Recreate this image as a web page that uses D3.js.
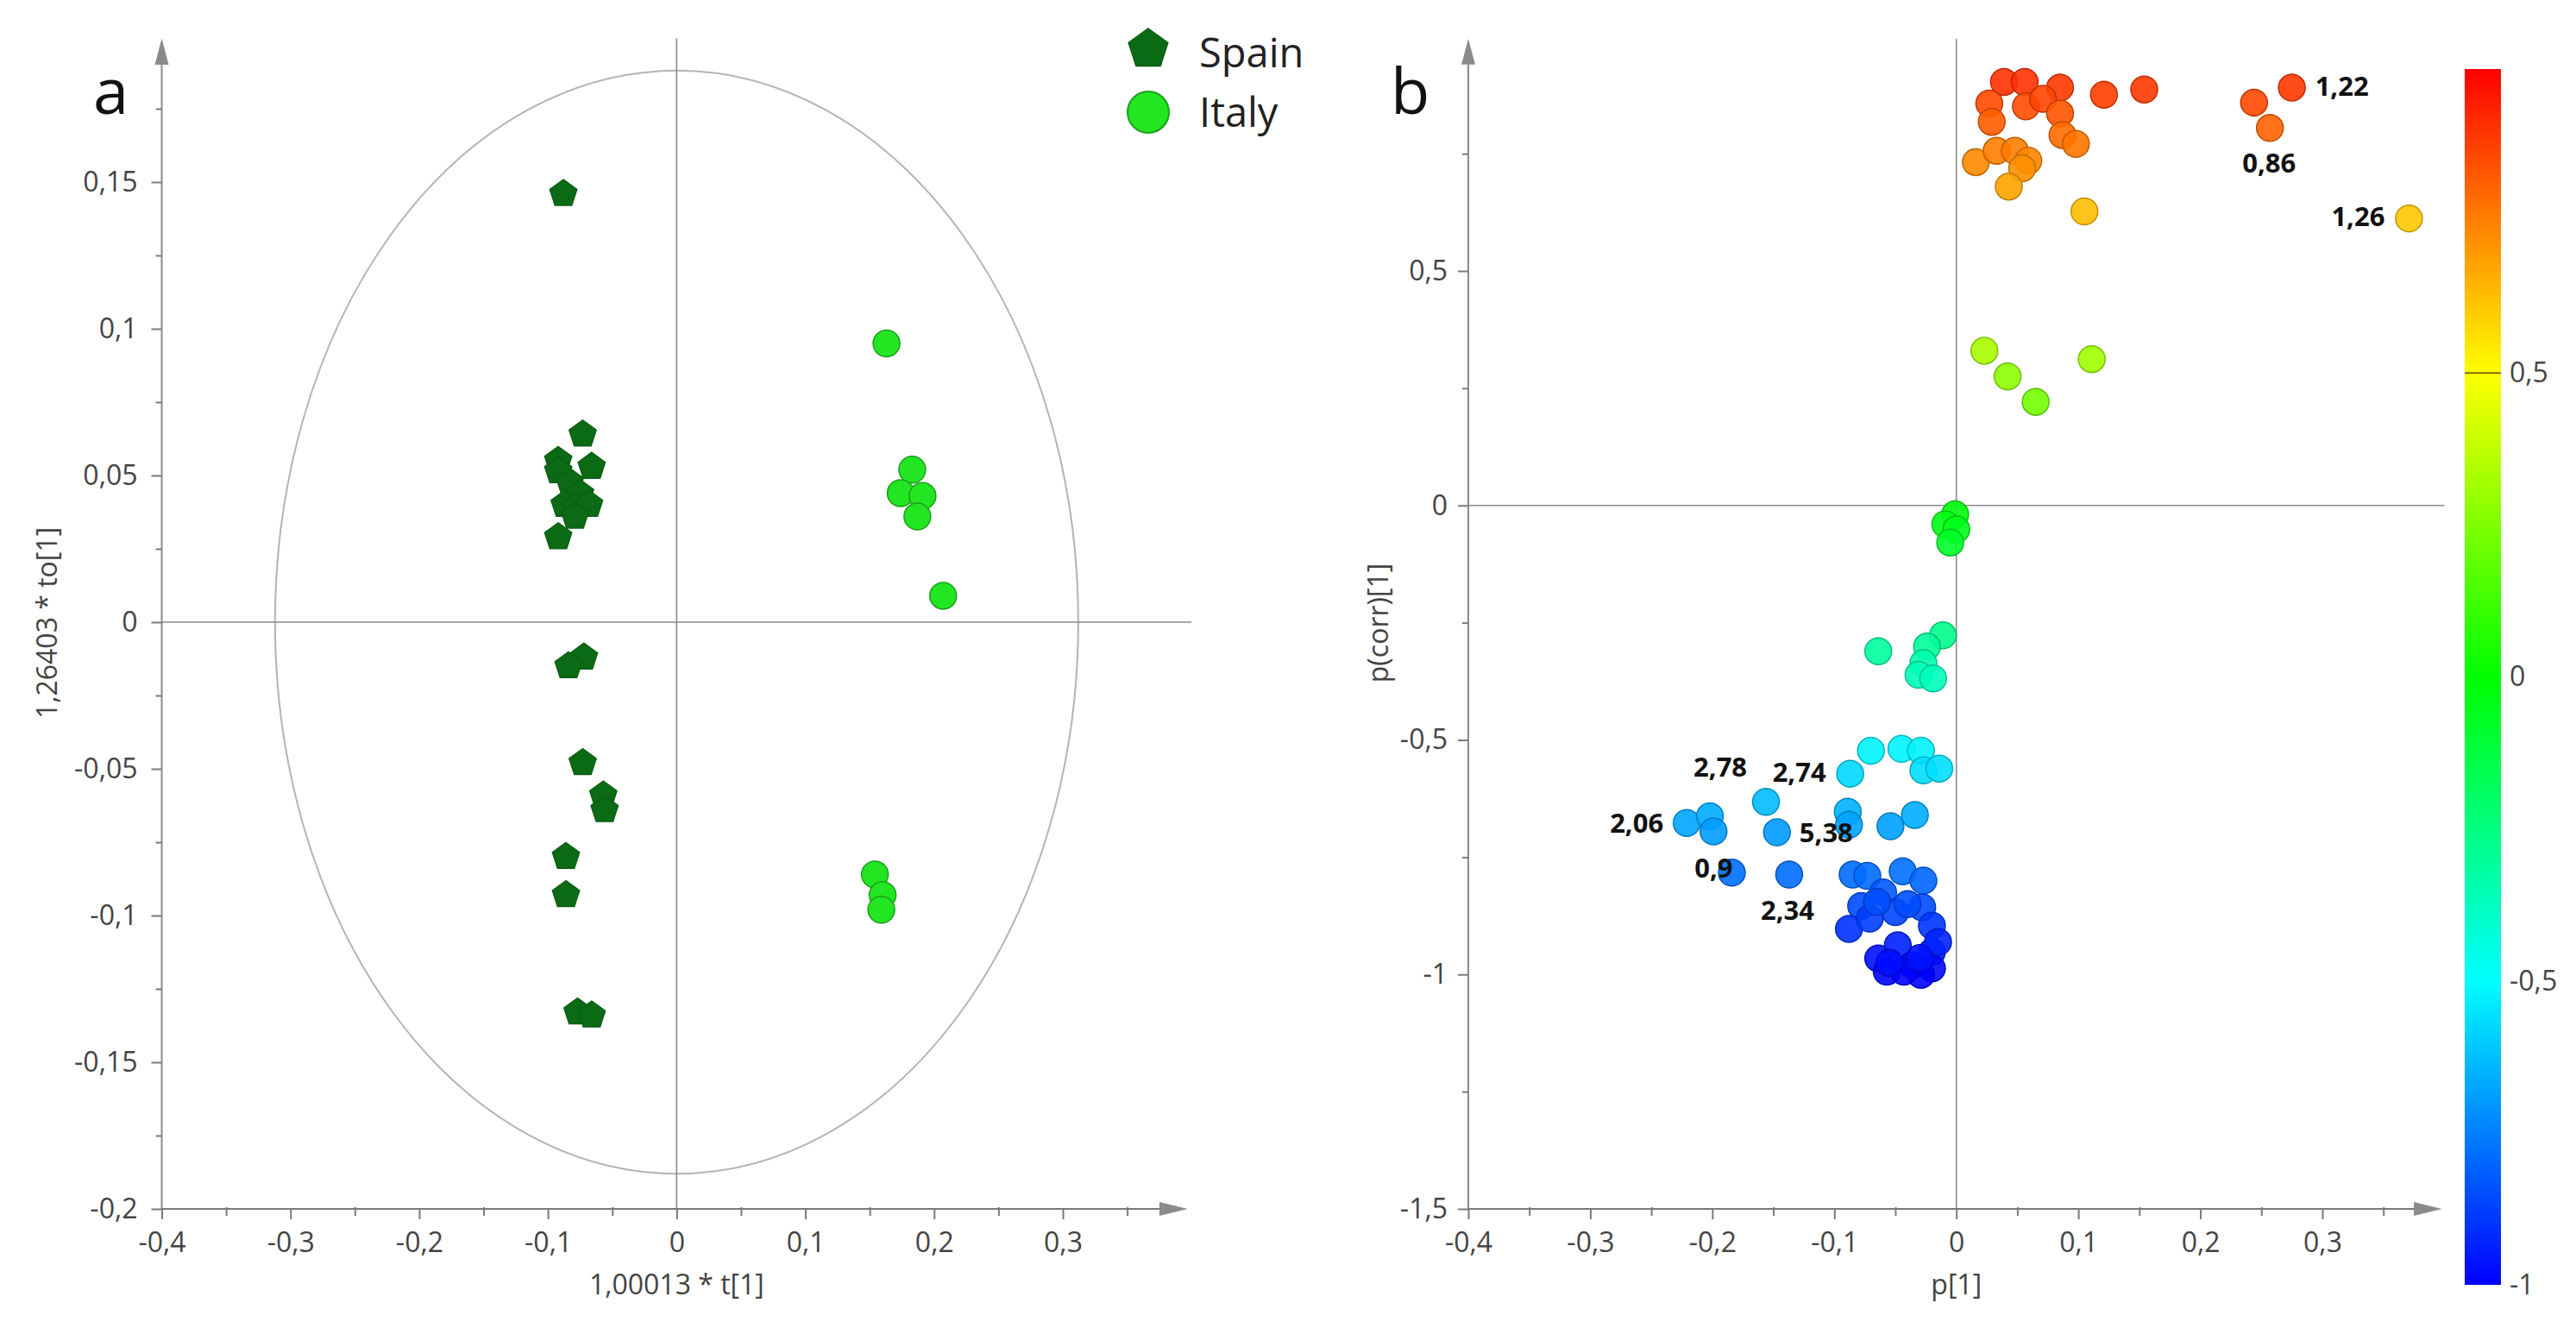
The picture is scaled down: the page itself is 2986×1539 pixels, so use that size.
<!DOCTYPE html>
<html>
<head>
<meta charset="utf-8">
<script src="https://cdn.jsdelivr.net/npm/d3@7"></script>
<style>
body { margin: 0; background: #fff; }
</style>
</head>
<body>
<div id="chart"></div>
<script>
const WIDTH = 2986;
const HEIGHT = 1539;
const FONT = "'Open Sans', 'Noto Sans', sans-serif";

// Panel a: scores, [t[1], to[1]]
const spain = [
  [-0.088, 0.146], [-0.073, 0.064], [-0.092, 0.055], [-0.066, 0.053],
  [-0.092, 0.0515], [-0.083, 0.0476], [-0.075, 0.0437], [-0.087, 0.040],
  [-0.079, 0.039], [-0.068, 0.040], [-0.079, 0.036], [-0.092, 0.029],
  [-0.072, -0.012], [-0.084, -0.015], [-0.073, -0.048], [-0.057, -0.059],
  [-0.056, -0.064], [-0.086, -0.080], [-0.086, -0.093], [-0.077, -0.133],
  [-0.066, -0.134]
];
const italy = [
  [0.163, 0.095], [0.183, 0.052], [0.174, 0.044], [0.191, 0.043],
  [0.187, 0.036], [0.207, 0.009], [0.154, -0.086], [0.160, -0.093],
  [0.159, -0.098]
];
const groupNames = ["Spain", "Italy"];

// Hotelling ellipse half axes (t[1], to[1])
const ellipseR = [0.312, 0.188];

// Panel b: loadings, [p[1], p(corr)[1]]
const loadings = [
  [0.039, 0.903], [0.056, 0.903], [0.085, 0.891], [0.121, 0.876], [0.154, 0.887],
  [0.027, 0.857], [0.029, 0.818], [0.057, 0.851], [0.071, 0.867], [0.085, 0.836],
  [0.087, 0.790], [0.098, 0.771], [0.016, 0.732], [0.033, 0.756], [0.048, 0.756],
  [0.059, 0.735], [0.054, 0.719], [0.043, 0.680], [0.105, 0.627], [0.244, 0.859],
  [0.275, 0.891], [0.257, 0.805], [0.371, 0.612],
  [0.023, 0.330], [0.042, 0.275], [0.065, 0.221], [0.111, 0.312],
  [-0.001, -0.019], [-0.009, -0.040], [0.000, -0.051], [-0.005, -0.079],
  [-0.064, -0.311], [-0.011, -0.277], [-0.024, -0.301], [-0.027, -0.336],
  [-0.031, -0.361], [-0.019, -0.369],
  [-0.070, -0.523], [-0.045, -0.519], [-0.029, -0.523], [-0.087, -0.572],
  [-0.027, -0.565], [-0.014, -0.561],
  [-0.156, -0.632], [-0.089, -0.653], [-0.088, -0.681], [-0.034, -0.660],
  [-0.054, -0.684], [-0.221, -0.677], [-0.202, -0.663], [-0.199, -0.695],
  [-0.147, -0.697],
  [-0.184, -0.783], [-0.137, -0.787], [-0.085, -0.787], [-0.073, -0.790],
  [-0.044, -0.780], [-0.027, -0.800], [-0.078, -0.854], [-0.060, -0.825],
  [-0.050, -0.867], [-0.028, -0.857], [-0.088, -0.903], [-0.071, -0.881],
  [-0.020, -0.896], [-0.065, -0.845], [-0.040, -0.850],
  [-0.064, -0.966], [-0.048, -0.938], [-0.036, -0.980], [-0.020, -0.952],
  [-0.020, -0.987], [-0.057, -0.994], [-0.029, -1.001], [-0.043, -0.994],
  [-0.015, -0.931], [-0.055, -0.975], [-0.030, -0.965]
];
const labelText = ["1,22", "0,86", "1,26", "2,74", "2,78", "2,06", "5,38", "0,9", "2,34"];
const labelPoint = [20, 21, 22, 40, 43, 48, 51, 52, 53];

// ticks
const xMajor = [-0.4, -0.3, -0.2, -0.1, 0, 0.1, 0.2, 0.3];
const xMinor = [-0.35, -0.25, -0.15, -0.05, 0.05, 0.15, 0.25, 0.35];
const yMajorA = [-0.2, -0.15, -0.1, -0.05, 0, 0.05, 0.1, 0.15];
const yMinorA = [-0.175, -0.125, -0.075, -0.025, 0.025, 0.075, 0.125, 0.175];
const yMajorB = [-1.5, -1, -0.5, 0, 0.5];
const yMinorB = [-1.25, -0.75, -0.25, 0.25, 0.75];
const cbarTicks = [-1, -0.5, 0, 0.5];
const cbarStops = [-1, -0.5, 0, 0.5, 1];
const cbarColors = ["#0000ff", "#00ffff", "#00ff00", "#ffff00", "#ff0000"];

// label placement next to its point (px)
const LABEL_PLACE = [
  {anchor: "start", dx: 27, dy: 10},
  {anchor: "middle", dx: -1, dy: 52},
  {anchor: "end", dx: -28, dy: 9},
  {anchor: "end", dx: -28, dy: 9},
  {anchor: "end", dx: -22, dy: -29},
  {anchor: "end", dx: -27, dy: 11},
  {anchor: "start", dx: 26, dy: 11},
  {anchor: "end", dx: 1, dy: 6},
  {anchor: "middle", dx: -2, dy: 53}
];

const fmt = d3.formatLocale({decimal: ",", thousands: ".", grouping: [3], currency: ["", ""], minus: "-"}).format("~g");

const svg = d3.select("#chart").append("svg")
  .attr("width", WIDTH)
  .attr("height", HEIGHT)
  .style("background", "#fff");

function pentagon(r) {
  const pts = d3.range(5).map(function (k) {
    const a = -Math.PI / 2 + k * 2 * Math.PI / 5;
    return [r * Math.cos(a), r * Math.sin(a)];
  });
  return d3.line().curve(d3.curveLinearClosed)(pts);
}

function styleAxis(g) {
  g.select(".domain").remove();
  g.attr("font-family", FONT).attr("font-size", 32);
  g.selectAll(".tick line").attr("stroke", "#7a7a7a").attr("stroke-width", 2);
  g.selectAll(".tick text").attr("fill", "#444");
}

function drawFrame(g, x, y, c) {
  const y0 = y(c.yMin), x0 = x(c.xMin);
  // zero lines
  g.append("line").attr("x1", x0).attr("x2", x(c.xZeroEnd))
    .attr("y1", y(0)).attr("y2", y(0))
    .attr("stroke", "#8a8a8a").attr("stroke-width", 1.6);
  g.append("line").attr("x1", x(0)).attr("x2", x(0))
    .attr("y1", y0).attr("y2", y(c.yTip))
    .attr("stroke", "#8a8a8a").attr("stroke-width", 1.6);

  // axis lines with arrows
  g.append("line").attr("x1", x0).attr("x2", x(c.xArrow))
    .attr("y1", y0).attr("y2", y0)
    .attr("stroke", "#7a7a7a").attr("stroke-width", 2);
  g.append("path")
    .attr("d", "M" + x(c.xArrow) + "," + (y0 - 8) + "L" + x(c.xTip) + "," + y0 + "L" + x(c.xArrow) + "," + (y0 + 8) + "Z")
    .attr("fill", "#8a8a8a");
  g.append("line").attr("x1", x0).attr("x2", x0)
    .attr("y1", y0).attr("y2", y(c.yArrow))
    .attr("stroke", "#8a8a8a").attr("stroke-width", 2);
  g.append("path")
    .attr("d", "M" + (x0 - 8) + "," + y(c.yArrow) + "L" + x0 + "," + y(c.yTip) + "L" + (x0 + 8) + "," + y(c.yArrow) + "Z")
    .attr("fill", "#8a8a8a");

  // ticks
  g.append("g").attr("transform", "translate(0," + (y0 - 1) + ")")
    .call(d3.axisBottom(x).tickValues(c.xMajor).tickFormat(fmt).tickSize(13).tickPadding(15))
    .call(styleAxis);
  g.append("g").attr("transform", "translate(0," + (y0 - 2) + ")")
    .call(d3.axisBottom(x).tickValues(c.xMinor).tickFormat("").tickSize(10))
    .call(styleAxis);
  g.append("g").attr("transform", "translate(" + x0 + ",0)")
    .call(d3.axisLeft(y).tickValues(c.yMajor).tickFormat(fmt).tickSize(12).tickPadding(c.yPad))
    .call(styleAxis);
  g.append("g").attr("transform", "translate(" + x0 + ",0)")
    .call(d3.axisLeft(y).tickValues(c.yMinor).tickFormat("").tickSize(7))
    .call(styleAxis);

  // titles
  g.append("text").attr("x", x(0)).attr("y", 1500)
    .attr("text-anchor", "middle").attr("font-family", FONT).attr("font-size", 32).attr("fill", "#444")
    .text(c.xTitle);
  g.append("text").attr("transform", "translate(" + c.yTitleX + "," + 722 + ") rotate(-90)")
    .attr("text-anchor", "middle").attr("font-family", FONT).attr("font-size", 32).attr("fill", "#444")
    .text(c.yTitle);
  g.append("text").attr("x", c.letterX).attr("y", 132)
    .attr("font-family", FONT).attr("font-size", 74).attr("fill", "#111")
    .text(c.letter);
}

// ---------- panel a ----------
const xA = d3.scaleLinear().domain([-0.4, 0.3]).range([187.5, 1232]);
const yA = d3.scaleLinear().domain([-0.2, 0.15]).range([1401, 211]);
const gA = svg.append("g");

gA.append("ellipse")
  .attr("cx", xA(0)).attr("cy", yA(0))
  .attr("rx", xA(ellipseR[0]) - xA(0))
  .attr("ry", yA(0) - yA(ellipseR[1]))
  .attr("fill", "none").attr("stroke", "#b4b4b4").attr("stroke-width", 2);

drawFrame(gA, xA, yA, {
  xMin: -0.4, yMin: -0.2, xZeroEnd: 0.4, xArrow: 0.375, xTip: 0.397,
  yArrow: 0.19, yTip: 0.199, xMajor: xMajor, xMinor: xMinor,
  yMajor: yMajorA, yMinor: yMinorA, yPad: 16,
  xTitle: "1,00013 * t[1]", yTitle: "1,26403 * to[1]", yTitleX: 66,
  letter: "a", letterX: 108
});

gA.selectAll(".spain").data(spain).enter().append("path")
  .attr("class", "spain")
  .attr("d", pentagon(16.5))
  .attr("transform", function (d) { return "translate(" + xA(d[0]) + "," + yA(d[1]) + ")"; })
  .attr("fill", "#0b6b14").attr("stroke", "#0a5e12").attr("stroke-width", 1.5);

gA.selectAll(".italy").data(italy).enter().append("circle")
  .attr("class", "italy")
  .attr("cx", function (d) { return xA(d[0]); })
  .attr("cy", function (d) { return yA(d[1]); })
  .attr("r", 15.5)
  .attr("fill", "#22e622").attr("stroke", "#1a9e1a").attr("stroke-width", 1.5);

// legend
const legend = svg.append("g").attr("transform", "translate(1331,0)");
legend.append("path").attr("d", pentagon(24)).attr("transform", "translate(0,57)")
  .attr("fill", "#0b6b14").attr("stroke", "#0a5e12").attr("stroke-width", 1.5);
legend.append("circle").attr("cx", 0).attr("cy", 130).attr("r", 24)
  .attr("fill", "#22e622").attr("stroke", "#1a9e1a").attr("stroke-width", 2);
legend.selectAll("text").data(groupNames).enter().append("text")
  .attr("x", 59)
  .attr("y", function (d, i) { return 78 + i * 69; })
  .attr("font-family", FONT).attr("font-size", 47).attr("fill", "#222")
  .text(function (d) { return d; });

// ---------- panel b ----------
const xB = d3.scaleLinear().domain([-0.4, 0.3]).range([1702, 2692]);
const yB = d3.scaleLinear().domain([-1.5, 0.5]).range([1401, 314]);
const color = d3.scaleLinear().domain(cbarStops).range(cbarColors);
const gB = svg.append("g");

drawFrame(gB, xB, yB, {
  xMin: -0.4, yMin: -1.5, xZeroEnd: 0.4, xArrow: 0.375, xTip: 0.398,
  yArrow: 0.94, yTip: 0.995, xMajor: xMajor, xMinor: xMinor,
  yMajor: yMajorB, yMinor: yMinorB, yPad: 12,
  xTitle: "p[1]", yTitle: "p(corr)[1]", yTitleX: 1609,
  letter: "b", letterX: 1612
});

gB.selectAll(".load").data(loadings).enter().append("circle")
  .attr("class", "load")
  .attr("cx", function (d) { return xB(d[0]); })
  .attr("cy", function (d) { return yB(d[1]); })
  .attr("r", 15.5)
  .attr("fill", function (d) { return color(d[1]); })
  .attr("fill-opacity", 0.9)
  .attr("stroke", function (d) { return d3.color(color(d[1])).darker(0.8); })
  .attr("stroke-width", 1.5);

gB.selectAll(".lab").data(labelText).enter().append("text")
  .attr("class", "lab")
  .attr("x", function (d, i) { return xB(loadings[labelPoint[i]][0]) + LABEL_PLACE[i].dx; })
  .attr("y", function (d, i) { return yB(loadings[labelPoint[i]][1]) + LABEL_PLACE[i].dy; })
  .attr("text-anchor", function (d, i) { return LABEL_PLACE[i].anchor; })
  .attr("font-family", FONT).attr("font-size", 31).attr("font-weight", "bold").attr("fill", "#111")
  .text(function (d) { return d; });

// colour bar
const cY = d3.scaleLinear().domain([-1, 1]).range([1489, 80]);
const grad = svg.append("defs").append("linearGradient")
  .attr("id", "cbar").attr("x1", 0).attr("y1", 1).attr("x2", 0).attr("y2", 0);
grad.selectAll("stop").data(cbarStops).enter().append("stop")
  .attr("offset", function (d) { return (d + 1) / 2; })
  .attr("stop-color", function (d, i) { return cbarColors[i]; });

svg.append("rect")
  .attr("x", 2857).attr("width", 42)
  .attr("y", cY(1)).attr("height", cY(-1) - cY(1))
  .attr("fill", "url(#cbar)");
svg.append("line")
  .attr("x1", 2857).attr("x2", 2899)
  .attr("y1", cY(0.5)).attr("y2", cY(0.5))
  .attr("stroke", "#7d6a00").attr("stroke-width", 2);
svg.append("g").attr("transform", "translate(2899,0)")
  .call(d3.axisRight(cY).tickValues(cbarTicks).tickFormat(fmt).tickSize(0).tickPadding(10))
  .call(styleAxis);
</script>
</body>
</html>
